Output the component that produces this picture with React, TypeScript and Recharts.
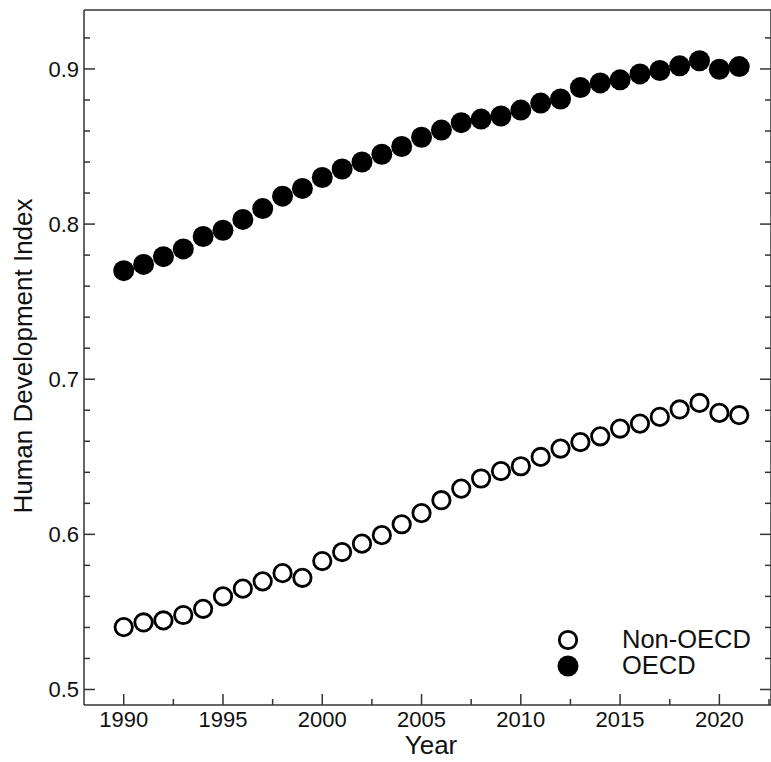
import React from 'react';
import { ScatterChart, Scatter, XAxis, YAxis, Legend } from 'recharts';

const years = [1990, 1991, 1992, 1993, 1994, 1995, 1996, 1997, 1998, 1999, 2000, 2001, 2002, 2003, 2004, 2005, 2006, 2007, 2008, 2009, 2010, 2011, 2012, 2013, 2014, 2015, 2016, 2017, 2018, 2019, 2020, 2021];
const oecdValues = [0.770, 0.774, 0.779, 0.784, 0.792, 0.796, 0.803, 0.810, 0.818, 0.823, 0.830, 0.8355, 0.840, 0.845, 0.850, 0.856, 0.8606, 0.8654, 0.8677, 0.8697, 0.8735, 0.878, 0.8806, 0.888, 0.891, 0.893, 0.8968, 0.899, 0.902, 0.9053, 0.8998, 0.9015];
const nonOecdValues = [0.5402, 0.5432, 0.5445, 0.548, 0.552, 0.560, 0.565, 0.5697, 0.575, 0.572, 0.5828, 0.5886, 0.594, 0.5995, 0.6065, 0.6137, 0.622, 0.6295, 0.636, 0.6408, 0.6439, 0.6499, 0.6553, 0.6595, 0.6632, 0.6682, 0.6714, 0.6757, 0.6805, 0.6847, 0.6783, 0.6768];
const xTicks = [1990, 1992.5, 1995, 1997.5, 2000, 2002.5, 2005, 2007.5, 2010, 2012.5, 2015, 2017.5, 2020, 2022.5];
const yTicks = [0.5, 0.52, 0.54, 0.56, 0.58, 0.6, 0.62, 0.64, 0.66, 0.68, 0.7, 0.72, 0.74, 0.76, 0.78, 0.8, 0.82, 0.84, 0.86, 0.88, 0.9, 0.92];
const seriesNames = ['Non-OECD', 'OECD'];

const oecdData = years.map((x, i) => ({ x, y: oecdValues[i] }));
const nonOecdData = years.map((x, i) => ({ x, y: nonOecdValues[i] }));

const FONT = '"Liberation Sans", Arial, Helvetica, sans-serif';
const AXIS = '#333';
const MAJOR = 11;
const MINOR = 6;
const X_DOMAIN = [1988, 2022.6];
const Y_DOMAIN = [0.49, 0.938];

const isMajorX = (v: number) => Math.abs(v / 5 - Math.round(v / 5)) < 1e-6;
const isMajorY = (v: number) => Math.abs(v * 10 - Math.round(v * 10)) < 1e-6;

const BottomTick = (props: any) => {
  const { x, y, payload } = props;
  const major = isMajorX(payload.value);
  return (
    <g>
      <line x1={x} x2={x} y1={y} y2={y - (major ? MAJOR : MINOR)} stroke={AXIS} strokeWidth={1.5} />
      {major && payload.value <= 2020 ? (
        <text x={x} y={y + 22} textAnchor="middle" fontSize={22} fontFamily={FONT} fill="#111">
          {payload.value}
        </text>
      ) : null}
    </g>
  );
};

const TopTick = (props: any) => {
  const { x, y, payload } = props;
  const major = isMajorX(payload.value);
  return <line x1={x} x2={x} y1={y} y2={y + (major ? MAJOR : MINOR)} stroke={AXIS} strokeWidth={1.5} />;
};

const LeftTick = (props: any) => {
  const { x, y, payload } = props;
  const major = isMajorY(payload.value);
  return (
    <g>
      <line x1={x} x2={x + (major ? MAJOR : MINOR)} y1={y} y2={y} stroke={AXIS} strokeWidth={1.5} />
      {major ? (
        <text x={x - 5} y={y + 8} textAnchor="end" fontSize={22} fontFamily={FONT} fill="#111">
          {payload.value.toFixed(1)}
        </text>
      ) : null}
    </g>
  );
};

const RightTick = (props: any) => {
  const { x, y, payload } = props;
  const major = isMajorY(payload.value);
  return <line x1={x} x2={x - (major ? MAJOR : MINOR)} y1={y} y2={y} stroke={AXIS} strokeWidth={1.5} />;
};

const FilledDot = (props: any) => {
  const { cx, cy } = props;
  if (cx == null || cy == null) return null;
  return <circle cx={cx} cy={cy} r={10.5} fill="#000" />;
};

const OpenDot = (props: any) => {
  const { cx, cy } = props;
  if (cx == null || cy == null) return null;
  return <circle cx={cx} cy={cy} r={8.7} fill="#fff" stroke="#000" strokeWidth={2.8} />;
};

const renderLegend = () => (
  <svg width={210} height={60}>
    <circle cx={18} cy={15} r={8.7} fill="#fff" stroke="#000" strokeWidth={2.8} />
    <text x={72} y={23} fontSize={25.5} fontFamily={FONT} fill="#111">{seriesNames[0]}</text>
    <circle cx={18} cy={41} r={10.5} fill="#000" />
    <text x={72} y={49} fontSize={25.5} fontFamily={FONT} fill="#111">{seriesNames[1]}</text>
  </svg>
);

export default function App() {
  return (
    <div style={{ position: 'absolute', left: 0, top: 0, background: '#fff' }}>
      <ScatterChart width={771} height={762} margin={{ top: 8, right: -1, bottom: 7, left: 10 }}>
        <XAxis
          type="number"
          dataKey="x"
          domain={X_DOMAIN}
          allowDataOverflow
          ticks={xTicks}
          interval={0}
          tick={<BottomTick />}
          tickLine={false}
          tickSize={0}
          tickMargin={0}
          axisLine={{ stroke: AXIS, strokeWidth: 1.5 }}
          height={50}
          label={() => (
            <text x={431} y={754} textAnchor="middle" fontSize={26} fontFamily={FONT} fill="#111">
              Year
            </text>
          )}
        />
        <XAxis
          xAxisId="top"
          orientation="top"
          type="number"
          domain={X_DOMAIN}
          allowDataOverflow
          ticks={xTicks}
          interval={0}
          tick={<TopTick />}
          tickLine={false}
          tickSize={0}
          tickMargin={0}
          axisLine={{ stroke: AXIS, strokeWidth: 1.5 }}
          height={2}
        />
        <YAxis
          type="number"
          dataKey="y"
          domain={Y_DOMAIN}
          allowDataOverflow
          ticks={yTicks}
          interval={0}
          tick={<LeftTick />}
          tickLine={false}
          tickSize={0}
          tickMargin={0}
          axisLine={{ stroke: AXIS, strokeWidth: 1.5 }}
          width={74}
          label={() => (
            <text
              x={32}
              y={356}
              transform="rotate(-90 32 356)"
              textAnchor="middle"
              fontSize={26}
              fontFamily={FONT}
              fill="#111"
            >
              Human Development Index
            </text>
          )}
        />
        <YAxis
          yAxisId="right"
          orientation="right"
          type="number"
          domain={Y_DOMAIN}
          allowDataOverflow
          ticks={yTicks}
          interval={0}
          tick={<RightTick />}
          tickLine={false}
          tickSize={0}
          tickMargin={0}
          axisLine={{ stroke: AXIS, strokeWidth: 1.5 }}
          width={1}
        />
        <Legend
          layout="vertical"
          align="center"
          verticalAlign="middle"
          content={renderLegend}
          wrapperStyle={{ position: 'absolute', left: 550, top: 625, width: 210, height: 60 }}
        />
        <Scatter name={seriesNames[0]} data={nonOecdData} shape={<OpenDot />} isAnimationActive={false} />
        <Scatter name={seriesNames[1]} data={oecdData} shape={<FilledDot />} isAnimationActive={false} />
      </ScatterChart>
    </div>
  );
}
